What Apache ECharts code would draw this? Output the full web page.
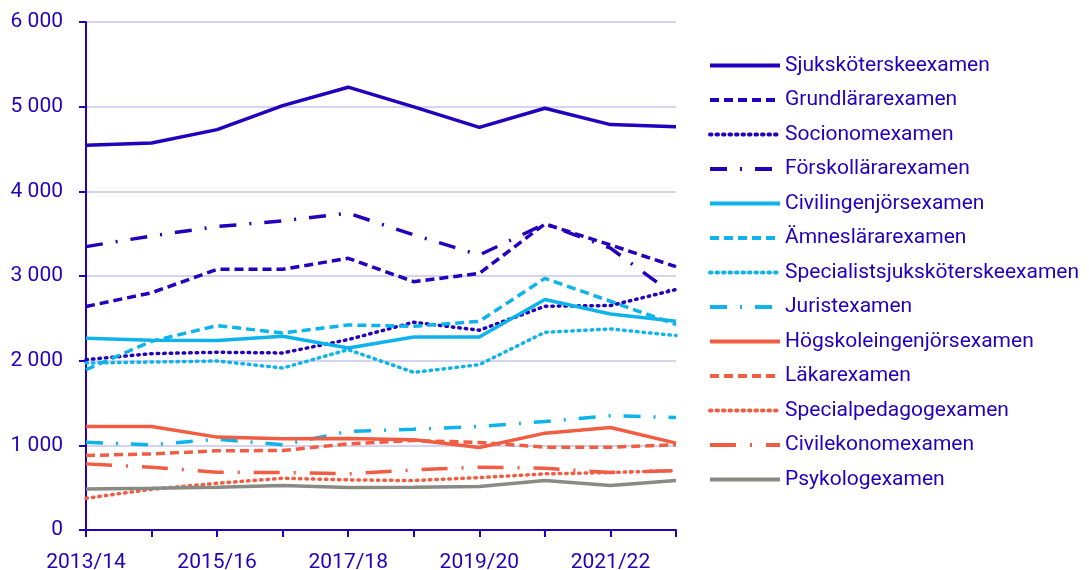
<!DOCTYPE html>
<html>
<head>
<meta charset="utf-8">
<title>Examina</title>
<script src="https://cdn.jsdelivr.net/npm/echarts@6/dist/echarts.min.js"></script>
<style>
  html, body { margin: 0; padding: 0; background: #fff; }
  #main { width: 1089px; height: 570px; }
</style>
</head>
<body>
<div id="main"></div>
<script>
var years = ['2013/14', '2014/15', '2015/16', '2016/17', '2017/18', '2018/19', '2019/20', '2020/21', '2021/22', '2022/23'];

var sjukskoterske = [4543, 4571, 4729, 5013, 5230, 4997, 4756, 4981, 4788, 4764];
var grundlarare = [2640, 2802, 3079, 3079, 3209, 2933, 3031, 3615, 3367, 3110];
var socionom = [2012, 2083, 2099, 2091, 2249, 2454, 2359, 2643, 2651, 2840];
var forskollarare = [3347, 3473, 3584, 3651, 3742, 3485, 3248, 3615, 3330, 2760];
var civilingenjor = [2264, 2241, 2237, 2288, 2150, 2280, 2280, 2722, 2552, 2465];
var amneslarare = [1893, 2229, 2414, 2327, 2422, 2406, 2465, 2972, 2702, 2426];
var specialistsjuk = [1972, 1984, 1996, 1913, 2130, 1862, 1953, 2335, 2375, 2296];
var jurist = [1037, 1006, 1073, 1006, 1164, 1191, 1223, 1282, 1349, 1329];
var hogskoleingenjor = [1223, 1223, 1097, 1077, 1081, 1065, 974, 1144, 1211, 1026];
var lakare = [880, 899, 935, 939, 1018, 1057, 1034, 978, 978, 1006];
var specialpedagog = [375, 481, 552, 611, 592, 584, 619, 663, 679, 702];
var civilekonom = [781, 742, 682, 679, 663, 710, 742, 730, 679, 702];
var psykolog = [485, 493, 505, 525, 501, 505, 513, 584, 525, 584];

var darkBlue = '#2300bd';
var lightBlue = '#0fb3ec';
var orange = '#f05d42';
var grey = '#8a8a84';

var DASH = [9, 5];
var DOT = [1.5, 5];
var DASHDOT = [17, 13, 2, 13];
var LONGDASHDOT = [26, 14, 2, 14];

function line(name, data, color, type) {
    return {
        name: name,
        type: 'line',
        data: data,
        symbol: 'none',
        silent: true,
        lineStyle: { color: color, width: 3.5, type: type, cap: type === DOT ? 'round' : 'butt' },
        itemStyle: { color: color }
    };
}

var myChart = echarts.init(document.getElementById('main'));

var option = {
    animation: false,
    textStyle: { fontFamily: 'Roboto' },
    grid: { left: 86, right: 413, top: 22, bottom: 40, outerBoundsMode: 'none', containLabel: false },
    legend: {
        orient: 'vertical',
        left: 703,
        top: 50,
        itemWidth: 70,
        itemHeight: 14,
        itemGap: 13.5,
        itemStyle: { color: 'rgba(0,0,0,0)', borderWidth: 0, opacity: 0 },
        lineStyle: { width: 4 },
        textStyle: { color: darkBlue, fontSize: 21, fontFamily: 'Roboto' },
        data: ['Sjuksköterskeexamen', 'Grundlärarexamen', 'Socionomexamen', 'Förskollärarexamen',
               'Civilingenjörsexamen', 'Ämneslärarexamen', 'Specialistsjuksköterskeexamen', 'Juristexamen',
               'Högskoleingenjörsexamen', 'Läkarexamen', 'Specialpedagogexamen', 'Civilekonomexamen', 'Psykologexamen']
    },
    xAxis: {
        type: 'category',
        data: years,
        boundaryGap: false,
        axisLine: { lineStyle: { color: darkBlue, width: 2 } },
        axisTick: { show: true, length: 7, interval: 0, lineStyle: { color: darkBlue, width: 2 } },
        axisLabel: { interval: 1, color: darkBlue, fontSize: 21, margin: 22 },
        splitLine: { show: false }
    },
    yAxis: {
        type: 'value',
        min: 0,
        max: 6000,
        interval: 1000,
        axisLine: { show: true, lineStyle: { color: darkBlue, width: 2 } },
        axisTick: { show: true, length: 7, lineStyle: { color: darkBlue, width: 2 } },
        axisLabel: {
            color: darkBlue,
            fontSize: 21,
            margin: 23,
            formatter: function (v) {
                return String(v).replace(/\B(?=(\d{3})+(?!\d))/g, ' ');
            }
        },
        splitLine: { show: true, lineStyle: { color: '#d4d3f0', width: 2 } }
    },
    series: [
        line('Sjuksköterskeexamen', sjukskoterske, darkBlue, 'solid'),
        line('Grundlärarexamen', grundlarare, darkBlue, DASH),
        line('Socionomexamen', socionom, darkBlue, DOT),
        line('Förskollärarexamen', forskollarare, darkBlue, DASHDOT),
        line('Civilingenjörsexamen', civilingenjor, lightBlue, 'solid'),
        line('Ämneslärarexamen', amneslarare, lightBlue, DASH),
        line('Specialistsjuksköterskeexamen', specialistsjuk, lightBlue, DOT),
        line('Juristexamen', jurist, lightBlue, DASHDOT),
        line('Högskoleingenjörsexamen', hogskoleingenjor, orange, 'solid'),
        line('Läkarexamen', lakare, orange, DASH),
        line('Specialpedagogexamen', specialpedagog, orange, DOT),
        line('Civilekonomexamen', civilekonom, orange, LONGDASHDOT),
        line('Psykologexamen', psykolog, grey, 'solid')
    ]
};

myChart.setOption(option);
</script>
</body>
</html>
